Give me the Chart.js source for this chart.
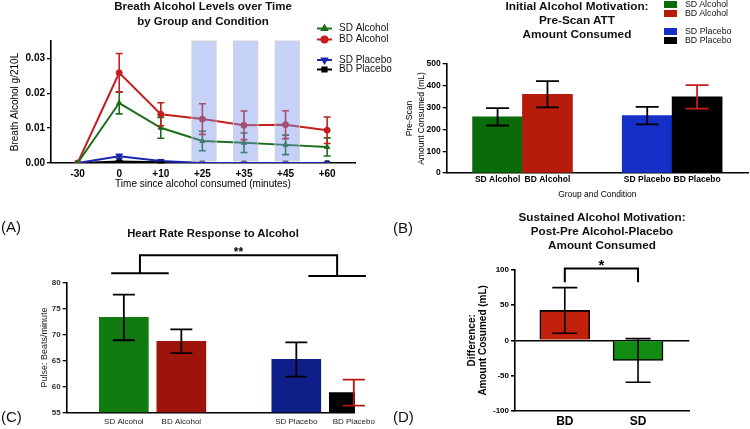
<!DOCTYPE html>
<html>
<head>
<meta charset="utf-8">
<script src="https://cdn.jsdelivr.net/npm/chart.js@4.4.0/dist/chart.umd.min.js"></script>
<style>
  body { margin: 0; background: #fff; font-family: "Liberation Sans", Arial, sans-serif; }
  #lienzo { position: relative; width: 750px; height: 429px; overflow: hidden; }
  #lienzo canvas { position: absolute; }
  .titulo { position: absolute; transform: translateX(-50%); font-weight: bold; text-align: center; white-space: nowrap; color: #111; }
  .letra { position: absolute; font-size: 15px; color: #111; }
  .leyenda { position: absolute; left: 664px; font-size: 8.8px; color: #111; white-space: nowrap; }
  .leyenda span { display: inline-block; width: 13px; height: 7px; margin-right: 8px; vertical-align: middle; }
</style>
</head>
<body>
<div id="lienzo">
  <canvas id="grafico-aliento" width="400" height="200" style="left:0;top:0"></canvas>
  <canvas id="grafico-prescan" width="370" height="210" style="left:380px;top:0"></canvas>
  <canvas id="grafico-pulso" width="380" height="219" style="left:0;top:210px"></canvas>
  <canvas id="grafico-diferencia" width="370" height="219" style="left:380px;top:210px"></canvas>

  <div class="titulo" style="left:203px;top:-1px;font-size:11.5px;line-height:15px">Breath Alcohol Levels over Time<br>by Group and Condition</div>
  <div class="titulo" style="left:577px;top:0;font-size:11.8px;line-height:13.9px">Initial Alcohol Motivation:<br>Pre-Scan ATT<br>Amount Consumed</div>
  <div class="titulo" style="left:213px;top:226px;font-size:11.3px;line-height:15px">Heart Rate Response to Alcohol</div>
  <div class="titulo" style="left:602px;top:210px;font-size:11.7px;line-height:13.9px">Sustained Alcohol Motivation:<br>Post-Pre Alcohol-Placebo<br>Amount Consumed</div>

  <div class="letra" style="left:1px;top:218px">(A)</div>
  <div class="letra" style="left:393px;top:219px">(B)</div>
  <div class="letra" style="left:1px;top:408px">(C)</div>
  <div class="letra" style="left:393px;top:408px">(D)</div>

  <div class="leyenda" style="top:-1px"><span style="background:#0b6b0b"></span>SD Alcohol</div>
  <div class="leyenda" style="top:8px"><span style="background:#b51c0c"></span>BD Alcohol</div>
  <div class="leyenda" style="top:26px"><span style="background:#1530c8"></span>SD Placebo</div>
  <div class="leyenda" style="top:35px"><span style="background:#000"></span>BD Placebo</div>
</div>

<script>
// === Datos: (A) alcohol en aliento ===
const tiempos = ["-30", "0", "+10", "+25", "+35", "+45", "+60"];
const tiemposEscaneo = ["+25", "+35", "+45"];
const sdAlcohol = [0, 0.0172, 0.0101, 0.0063, 0.0058, 0.0052, 0.0046];
const sdAlcoholErr = [0, 0.0031, 0.0030, 0.0028, 0.0028, 0.0028, 0.0026];
const bdAlcohol = [0, 0.0259, 0.0140, 0.0126, 0.0108, 0.0110, 0.0094];
const bdAlcoholErr = [0, 0.0055, 0.0033, 0.0044, 0.0041, 0.0040, 0.0038];
const sdPlacebo = [0, 0.0019, 0.0006, 0, 0, 0, 0];
const sdPlaceboErr = [0, 0.0006, 0.0003, 0, 0, 0, 0];
const bdPlacebo = [0, 0.0004, 0.0002, 0, 0, 0, 0];
const bdPlaceboErr = [0, 0.0002, 0.0001, 0, 0, 0, 0];

// === Datos: (B) consumo pre-escaneo y (C) pulso ===
const grupos = ["SD Alcohol", "BD Alcohol", "SD Placebo", "BD Placebo"];
const posiciones = [0, 1, 3, 4]; // hueco entre alcohol y placebo
const preScan = [258, 361, 263, 349];
const preScanErr = [40, 60, 40, 54];
const pulso = [73.3, 68.7, 65.2, 58.8];
const pulsoErr = [4.4, 2.3, 3.3, 2.5];

// === Datos: (D) diferencia ===
const gruposD = ["BD", "SD"];
const diferencia = [42.5, -28.5];
const diferenciaErr = [32.5, 31];

Chart.defaults.font.family = "'Liberation Sans', Arial, sans-serif";
Chart.defaults.color = "#000";
Chart.defaults.animation = false;

// === Plugins ===
const barrasError = {
  id: "barrasError",
  afterDatasetsDraw(chart, args, opts) {
    const { ctx } = chart;
    const y = chart.scales.y;
    chart.data.datasets.forEach((ds, i) => {
      if (!ds.errores) return;
      chart.getDatasetMeta(i).data.forEach((el, j) => {
        const e = ds.errores[j];
        if (!e) return;
        const d = ds.data[j];
        const v = typeof d === "object" ? d.y : d;
        const arriba = y.getPixelForValue(v + e);
        const abajo = y.getPixelForValue(v - e);
        const w = opts.cap / 2;
        ctx.save();
        ctx.strokeStyle = Array.isArray(ds.colorError) ? ds.colorError[j] : ds.colorError;
        ctx.lineWidth = opts.grosor;
        ctx.beginPath();
        ctx.moveTo(el.x, arriba); ctx.lineTo(el.x, abajo);
        ctx.moveTo(el.x - w, arriba); ctx.lineTo(el.x + w, arriba);
        ctx.moveTo(el.x - w, abajo); ctx.lineTo(el.x + w, abajo);
        ctx.stroke();
        ctx.restore();
      });
    });
  }
};

const sombreado = {
  id: "sombreado",
  afterDatasetsDraw(chart) {
    const { ctx, scales: { x, y } } = chart;
    tiemposEscaneo.forEach((t) => {
      const i = tiempos.indexOf(t);
      const l = x.getPixelForValue(i - 0.25);
      const r = x.getPixelForValue(i + 0.33);
      const top = y.getPixelForValue(y.max);
      const bot = y.getPixelForValue(0.0006);
      ctx.save();
      ctx.fillStyle = "rgba(120,145,235,0.42)";
      ctx.fillRect(l, top, r - l, bot - top);
      ctx.strokeStyle = "rgba(205,205,205,0.9)";
      ctx.lineWidth = 1;
      ctx.strokeRect(l, top, r - l, bot - top);
      ctx.restore();
    });
  }
};

const leyendaLineas = {
  id: "leyendaLineas",
  afterDraw(chart) {
    const { ctx } = chart;
    const filas = [28.5, 39.5, 60, 69.5];
    chart.data.datasets.forEach((ds, i) => {
      const y = filas[i];
      ctx.save();
      ctx.strokeStyle = ds.borderColor;
      ctx.lineWidth = 2;
      ctx.beginPath();
      ctx.moveTo(317, y); ctx.lineTo(332, y);
      ctx.stroke();
      ctx.fillStyle = ds.borderColor;
      Chart.helpers.drawPoint(ctx, { pointStyle: ds.pointStyle, radius: 3, rotation: ds.pointRotation || 0, borderWidth: 1 }, 324.5, y);
      ctx.fillStyle = "#111";
      ctx.font = "10px 'Liberation Sans', Arial, sans-serif";
      ctx.textBaseline = "middle";
      ctx.fillText(ds.label, 339, y);
      ctx.restore();
    });
  }
};

const corchete = {
  id: "corchete",
  afterDatasetsDraw(chart, args, o) {
    const { ctx, scales: { x, y } } = chart;
    const x1 = x.getPixelForValue(o.desde), x2 = x.getPixelForValue(o.hasta);
    const yt = y.getPixelForValue(o.alto);
    const y1 = y.getPixelForValue(o.caidaIzq), y2 = y.getPixelForValue(o.caidaDer);
    ctx.save();
    ctx.strokeStyle = "#000";
    ctx.lineWidth = 2;
    ctx.beginPath();
    ctx.moveTo(x1, y1); ctx.lineTo(x1, yt); ctx.lineTo(x2, yt); ctx.lineTo(x2, y2);
    if (o.ala) {
      ctx.moveTo(x.getPixelForValue(o.desde - o.ala), y1); ctx.lineTo(x.getPixelForValue(o.desde + o.ala), y1);
      ctx.moveTo(x.getPixelForValue(o.hasta - o.ala), y2); ctx.lineTo(x.getPixelForValue(o.hasta + o.ala), y2);
    }
    ctx.stroke();
    ctx.fillStyle = "#000";
    ctx.font = "bold " + o.tam + "px 'Liberation Sans', Arial, sans-serif";
    ctx.textAlign = "center";
    ctx.textBaseline = "alphabetic";
    ctx.fillText(o.texto, (x1 + x2) / 2, yt + o.bajar);
    ctx.restore();
  }
};

// === Ejes comunes ===
const ejeY = (extra) => ({
  grid: { display: true, drawOnChartArea: false, color: "#000", lineWidth: 1.3, tickLength: 4 },
  border: { color: "#000", width: 1.6 },
  ...extra
});

// === (A) Alcohol en aliento ===
const serieA = (label, valores, errores, color, estilo, rot) => ({
  label,
  data: valores.map((v, i) => ({ x: i, y: v })),
  errores,
  colorError: color,
  borderColor: color,
  backgroundColor: color,
  borderWidth: 2,
  pointStyle: estilo,
  pointRotation: rot || 0,
  pointRadius: 3,
  pointBorderWidth: 1
});

new Chart(document.getElementById("grafico-aliento"), {
  type: "line",
  data: {
    datasets: [
      serieA("SD Alcohol", sdAlcohol, sdAlcoholErr, "#1c6e1c", "triangle"),
      serieA("BD Alcohol", bdAlcohol, bdAlcoholErr, "#c41e1e", "circle"),
      serieA("SD Placebo", sdPlacebo, sdPlaceboErr, "#1a26b0", "triangle", 180),
      serieA("BD Placebo", bdPlacebo, bdPlaceboErr, "#000000", "rect")
    ]
  },
  options: {
    responsive: false,
    layout: { padding: { left: 0, top: 41, right: 45, bottom: 0 } },
    plugins: {
      legend: { display: false },
      tooltip: { enabled: false },
      barrasError: { cap: 7, grosor: 1.6 }
    },
    scales: {
      x: {
        type: "linear",
        min: -0.64,
        max: 6.67,
        afterBuildTicks: (s) => { s.ticks = tiempos.map((_, i) => ({ value: i })); },
        afterFit: (s) => { s.height = 37; },
        grid: { display: false, drawTicks: false },
        border: { color: "#000", width: 1.6 },
        ticks: { callback: (v, i) => tiempos[i], font: { size: 10, weight: "bold" }, padding: 5, maxRotation: 0, autoSkip: false },
        title: { display: true, text: "Time since alcohol consumed (minutes)", font: { size: 10 }, padding: { top: 0, bottom: 10 } }
      },
      y: ejeY({
        min: 0,
        max: 0.035,
        afterFit: (s) => { s.width = 51; },
        ticks: { stepSize: 0.01, includeBounds: false, callback: (v) => v.toFixed(2), font: { size: 10, weight: "bold" }, padding: 2 },
        title: { display: true, text: "Breath Alcohol g/210L", font: { size: 10 }, padding: { top: 9, bottom: 0 } }
      })
    }
  },
  plugins: [barrasError, sombreado, leyendaLineas]
});

// === Barras (B, C, D) ===
const datosBarras = (valores, pos) => valores.map((v, i) => ({ x: pos[i], y: v }));

const ejeXBarras = (etiquetas, pos, extra) => ({
  type: "linear",
  offset: false,
  afterBuildTicks: (s) => { s.ticks = pos.map((v) => ({ value: v })); },
  grid: { display: false, drawTicks: false },
  border: { color: "#000", width: 1.6 },
  ...extra,
  ticks: { callback: (v, i) => etiquetas[i], maxRotation: 0, autoSkip: false, ...extra.ticks }
});

// (B) Pre-scan
new Chart(document.getElementById("grafico-prescan"), {
  type: "bar",
  data: {
    datasets: [{
      data: datosBarras(preScan, posiciones),
      errores: preScanErr,
      colorError: ["#000", "#000", "#000", "#c41e1e"],
      backgroundColor: ["#0b6b0b", "#b51c0c", "#1530c8", "#000000"],
      barThickness: 50
    }]
  },
  options: {
    responsive: false,
    layout: { padding: { left: 0, top: 64, right: 2, bottom: 0 } },
    plugins: { legend: { display: false }, tooltip: { enabled: false }, barrasError: { cap: 23, grosor: 1.8 } },
    scales: {
      x: ejeXBarras(grupos, posiciones, {
        min: -1.02, max: 5.02,
        afterFit: (s) => { s.height = 37; },
        ticks: { font: { size: 8.5, weight: "bold" }, padding: 2 },
        title: { display: true, text: "Group and Condition", font: { size: 8.5 }, padding: { top: 0, bottom: 10 } }
      }),
      y: ejeY({
        min: 0, max: 500,
        afterFit: (s) => { s.width = 66.7; },
        ticks: { stepSize: 100, font: { size: 8.5, weight: "bold" }, padding: 2 },
        title: { display: true, text: ["Pre-Scan", "Amount Consumed (mL)"], font: { size: 8.5, lineHeight: 1.38 }, padding: { top: 24, bottom: 0 } }
      })
    }
  },
  plugins: [barrasError]
});

// (C) Pulso
new Chart(document.getElementById("grafico-pulso"), {
  type: "bar",
  data: {
    datasets: [{
      data: datosBarras(pulso, posiciones),
      errores: pulsoErr,
      colorError: ["#000", "#000", "#000", "#b01a10"],
      backgroundColor: ["#117a11", "#9e140a", "#0f1f8a", "#000000"],
      barThickness: 49
    }]
  },
  options: {
    responsive: false,
    layout: { padding: { left: 0, top: 72.7, right: 18.3, bottom: 0 } },
    plugins: {
      legend: { display: false }, tooltip: { enabled: false },
      barrasError: { cap: 22, grosor: 1.8 },
      corchete: { desde: 0.28, hasta: 3.71, alto: 85.3, caidaIzq: 81.8, caidaDer: 81.3, ala: 0.5, texto: "**", tam: 12, bajar: 1 }
    },
    scales: {
      x: ejeXBarras(grupos, posiciones, {
        min: -0.994, max: 4.02,
        afterFit: (s) => { s.height = 16.7; },
        ticks: { font: { size: 8 }, color: "#222", padding: 5 }
      }),
      y: ejeY({
        min: 55, max: 80,
        afterFit: (s) => { s.width = 66.7; },
        ticks: { stepSize: 5, font: { size: 8, weight: "bold" }, color: "#333", padding: 2 },
        title: { display: true, text: "Pulse: Beats/minute", font: { size: 9 }, color: "#222", padding: { top: 39.6, bottom: 0 } }
      })
    }
  },
  plugins: [barrasError, corchete]
});

// (D) Diferencia
new Chart(document.getElementById("grafico-diferencia"), {
  type: "bar",
  data: {
    datasets: [{
      data: datosBarras(diferencia, [0, 1]),
      errores: diferenciaErr,
      colorError: "#000",
      backgroundColor: ["#c0200c", "#128c12"],
      borderColor: "#000",
      borderWidth: 1.6,
      barThickness: 50
    }]
  },
  options: {
    responsive: false,
    layout: { padding: { left: 0, top: 60, right: 60.7, bottom: 0 } },
    plugins: {
      legend: { display: false }, tooltip: { enabled: false },
      barrasError: { cap: 25, grosor: 1.6 },
      corchete: { desde: 0, hasta: 1, alto: 102.3, caidaIzq: 82.5, caidaDer: 82.5, texto: "*", tam: 15, bajar: 2 }
    },
    scales: {
      x: ejeXBarras(gruposD, [0, 1], {
        min: -0.68, max: 1.70,
        afterFit: (s) => { s.height = 18.3; },
        ticks: { font: { size: 12, weight: "bold" }, padding: 4 }
      }),
      y: ejeY({
        min: -100, max: 100,
        afterFit: (s) => { s.width = 135; },
        grid: {
          display: true, drawOnChartArea: true, tickLength: 4, lineWidth: 1.6,
          tickColor: "#000",
          color: (c) => (c.tick && c.tick.value === 0 ? "#000" : "rgba(0,0,0,0)")
        },
        ticks: { stepSize: 50, font: { size: 8, weight: "bold" }, padding: 2 },
        title: { display: true, text: ["Difference:", "Amount Cosumed (mL)"], font: { size: 10, weight: "bold", lineHeight: 1.16 }, padding: { top: 86, bottom: 0 } }
      })
    }
  },
  plugins: [barrasError, corchete]
});
</script>
</body>
</html>
